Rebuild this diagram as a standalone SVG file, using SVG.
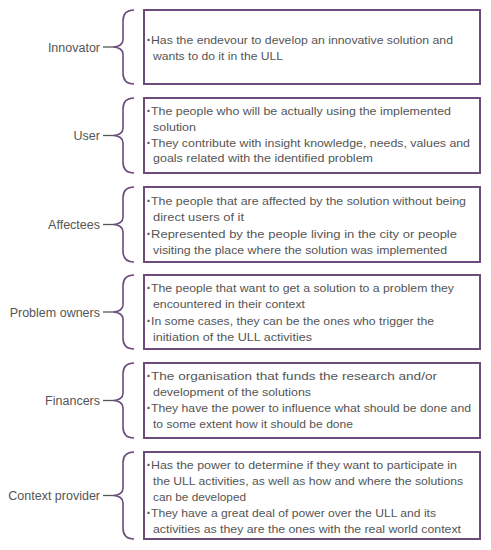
<svg xmlns="http://www.w3.org/2000/svg" width="491" height="550" viewBox="0 0 491 550">
<style>
.box{fill:#fff;stroke:#6b4c7b;stroke-width:2}
.brace{fill:none;stroke:#6b4c7b;stroke-width:1.6}
.tick{stroke:#555;stroke-width:1.3}
.lbl{font-family:"Liberation Sans",Arial,sans-serif;font-size:12.5px;fill:#555;text-anchor:end}
.t{font-family:"Liberation Sans",Arial,sans-serif;font-size:11.8px;fill:#555}
.b{font-family:"Liberation Sans",Arial,sans-serif;font-size:14px;font-weight:bold;fill:#555}
</style>
<rect width="491" height="550" fill="#fff"/>
<g id="connectors">
<path class="brace" d="M134,10 C127,10 123,14 123,21 L123,40 C123,44 119,47 113,47 C119,47 123,50 123,54 L123,73 C123,80 127,84 134,84"/>
<line class="tick" x1="103" y1="47" x2="113" y2="47"/>
<path class="brace" d="M134,98 C127,98 123,102 123,109 L123,128.5 C123,132.5 119,135.5 113,135.5 C119,135.5 123,138.5 123,142.5 L123,162 C123,169 127,173 134,173"/>
<line class="tick" x1="103" y1="135.5" x2="113" y2="135.5"/>
<path class="brace" d="M134,187 C127,187 123,191 123,198 L123,217.5 C123,221.5 119,224.5 113,224.5 C119,224.5 123,227.5 123,231.5 L123,251 C123,258 127,262 134,262"/>
<line class="tick" x1="103" y1="224.5" x2="113" y2="224.5"/>
<path class="brace" d="M134,275 C127,275 123,279 123,286 L123,305 C123,309 119,312 113,312 C119,312 123,315 123,319 L123,338 C123,345 127,349 134,349"/>
<line class="tick" x1="103" y1="312" x2="113" y2="312"/>
<path class="brace" d="M134,363 C127,363 123,367 123,374 L123,393.5 C123,397.5 119,400.5 113,400.5 C119,400.5 123,403.5 123,407.5 L123,427 C123,434 127,438 134,438"/>
<line class="tick" x1="103" y1="400.5" x2="113" y2="400.5"/>
<path class="brace" d="M134,452 C127,452 123,456 123,463 L123,488.5 C123,492.5 119,495.5 113,495.5 C119,495.5 123,498.5 123,502.5 L123,528 C123,535 127,539 134,539"/>
<line class="tick" x1="103" y1="495.5" x2="113" y2="495.5"/>
</g>
<g id="innovator">
<text class="lbl" x="100" y="51.5">Innovator</text>
<rect class="box" x="144" y="10" width="336" height="74"/>
<text class="b" x="146.5" y="44.5">·</text>
<text class="t" x="151" y="44" textLength="302" lengthAdjust="spacingAndGlyphs">Has the endevour to develop an innovative solution and</text>
<text class="t" x="153" y="60" textLength="130" lengthAdjust="spacingAndGlyphs">wants to do it in the ULL</text>
</g>
<g id="user">
<text class="lbl" x="100" y="140">User</text>
<rect class="box" x="144" y="98" width="336" height="75"/>
<text class="b" x="146.5" y="115.5">·</text>
<text class="t" x="151" y="115" textLength="300" lengthAdjust="spacingAndGlyphs">The people who will be actually using the implemented</text>
<text class="t" x="153" y="131" textLength="43" lengthAdjust="spacingAndGlyphs">solution</text>
<text class="b" x="146.5" y="147.5">·</text>
<text class="t" x="151" y="147" textLength="319" lengthAdjust="spacingAndGlyphs">They contribute with insight knowledge, needs, values and</text>
<text class="t" x="153" y="162" textLength="220" lengthAdjust="spacingAndGlyphs">goals related with the identified problem</text>
</g>
<g id="affectees">
<text class="lbl" x="100" y="229">Affectees</text>
<rect class="box" x="144" y="187" width="336" height="75"/>
<text class="b" x="146.5" y="205.5">·</text>
<text class="t" x="151" y="205" textLength="315" lengthAdjust="spacingAndGlyphs">The people that are affected by the solution without being</text>
<text class="t" x="153" y="221" textLength="91" lengthAdjust="spacingAndGlyphs">direct users of it</text>
<text class="b" x="146.5" y="238.5">·</text>
<text class="t" x="151" y="238" textLength="306" lengthAdjust="spacingAndGlyphs">Represented by the people living in the city or people</text>
<text class="t" x="153" y="254" textLength="294" lengthAdjust="spacingAndGlyphs">visiting the place where the solution was implemented</text>
</g>
<g id="problem-owners">
<text class="lbl" x="100" y="316.5">Problem owners</text>
<rect class="box" x="144" y="275" width="336" height="74"/>
<text class="b" x="146.5" y="292.5">·</text>
<text class="t" x="151" y="292" textLength="303" lengthAdjust="spacingAndGlyphs">The people that want to get a solution to a problem they</text>
<text class="t" x="153" y="308" textLength="152" lengthAdjust="spacingAndGlyphs">encountered in their context</text>
<text class="b" x="146.5" y="325.5">·</text>
<text class="t" x="151" y="325" textLength="283" lengthAdjust="spacingAndGlyphs">In some cases, they can be the ones who trigger the</text>
<text class="t" x="153" y="341" textLength="159" lengthAdjust="spacingAndGlyphs">initiation of the ULL activities</text>
</g>
<g id="financers">
<text class="lbl" x="100" y="405">Financers</text>
<rect class="box" x="144" y="363" width="336" height="75"/>
<text class="b" x="146.5" y="380.5">·</text>
<text class="t" x="151" y="380" textLength="286" lengthAdjust="spacingAndGlyphs">The organisation that funds the research and/or</text>
<text class="t" x="153" y="396" textLength="158" lengthAdjust="spacingAndGlyphs">development of the solutions</text>
<text class="b" x="146.5" y="412.5">·</text>
<text class="t" x="151" y="412" textLength="320" lengthAdjust="spacingAndGlyphs">They have the power to influence what should be done and</text>
<text class="t" x="153" y="428" textLength="200" lengthAdjust="spacingAndGlyphs">to some extent how it should be done</text>
</g>
<g id="context-provider">
<text class="lbl" x="100" y="500">Context provider</text>
<rect class="box" x="144" y="452" width="336" height="87"/>
<text class="b" x="146.5" y="469.5">·</text>
<text class="t" x="151" y="469" textLength="306" lengthAdjust="spacingAndGlyphs">Has the power to determine if they want to participate in</text>
<text class="t" x="153" y="485" textLength="310" lengthAdjust="spacingAndGlyphs">the ULL activities, as well as how and where the solutions</text>
<text class="t" x="153" y="501" textLength="93" lengthAdjust="spacingAndGlyphs">can be developed</text>
<text class="b" x="146.5" y="517.5">·</text>
<text class="t" x="151" y="517" textLength="285" lengthAdjust="spacingAndGlyphs">They have a great deal of power over the ULL and its</text>
<text class="t" x="153" y="533" textLength="308" lengthAdjust="spacingAndGlyphs">activities as they are the ones with the real world context</text>
</g>
</svg>
